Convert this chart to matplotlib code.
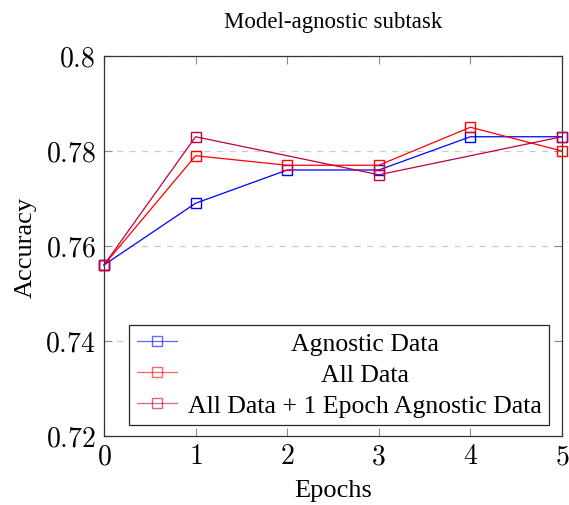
import matplotlib.pyplot as plt

epochs = [0, 1, 2, 3, 4, 5]
agnostic = [0.756, 0.769, 0.776, 0.776, 0.783, 0.783]
all_data = [0.756, 0.779, 0.777, 0.777, 0.785, 0.780]
mixed_epochs = [0, 1, 3, 5]
mixed = [0.756, 0.783, 0.775, 0.783]

labels = ["Agnostic Data", "All Data", "All Data + 1 Epoch Agnostic Data"]
colors = ["#0000ff", "#ff0000", "#bf0040"]
yticks = [0.72, 0.74, 0.76, 0.78, 0.8]

plt.rcParams['font.family'] = ['Liberation Serif', 'DejaVu Serif']
plt.rcParams['mathtext.fontset'] = 'cm'

fig = plt.figure(figsize=(5.69, 5.06), dpi=100)
ax = fig.add_axes([104 / 569, 1 - 437 / 506, 458 / 569, 380 / 506])

series = [(epochs, agnostic), (epochs, all_data), (mixed_epochs, mixed)]
handles = []
for (xs, ys), c in zip(series, colors):
    h, = ax.plot(xs, ys, color=c, lw=0.9, marker='s', markersize=7,
                 markerfacecolor='none', markeredgecolor=c, markeredgewidth=1.0,
                 clip_on=False, zorder=3)
    handles.append(h)

ax.set_xlim(0, 5)
ax.set_ylim(0.72, 0.8)
ax.set_xticks(epochs)
ax.set_xticklabels([f"${e}$" for e in epochs])
ax.set_yticks(yticks)
ax.set_yticklabels([f"${t:g}$" for t in yticks])
ax.tick_params(direction='in', length=6, width=0.8, color='0.55',
               top=True, right=True, labelsize=20, pad=6)
ax.yaxis.grid(True, linestyle=(0, (5, 5)), color='0.8', lw=0.9)
for s in ax.spines.values():
    s.set_linewidth(0.9)
    s.set_color('0.2')

ax.set_title("Model-agnostic subtask", fontsize=16.5, pad=21)
ax.set_xlabel("Epochs", fontsize=19, labelpad=7)
ax.set_ylabel("Accuracy", fontsize=19, labelpad=6)

# legend frame with handles, text centred afterwards like pgfplots
leg = ax.legend(handles, labels, loc='lower left', mode='expand',
                bbox_to_anchor=(0.055, 0.029, 0.917, 0.268), fontsize=18.5,
                frameon=True, fancybox=False, edgecolor='0.15', framealpha=1,
                handlelength=1.55, handletextpad=0.3, borderpad=0.3,
                labelspacing=0.31, borderaxespad=0)
leg.get_frame().set_linewidth(0.9)
for line in leg.get_lines():
    line.set_alpha(0.6)

fig.canvas.draw()
frame_bb = leg.get_frame().get_window_extent()
inv = fig.transFigure.inverted()
for t, hl in zip(leg.get_texts(), leg.get_lines()):
    tb = t.get_window_extent()
    hb = hl.get_window_extent()
    xc = (hb.x1 + frame_bb.x1) / 2
    yc = (tb.y0 + tb.y1) / 2
    fx, fy = inv.transform((xc, yc))
    fig.text(fx, fy, t.get_text(), ha='center', va='center', fontsize=18.5)
    t.set_visible(False)

fig.savefig("out.png", dpi=100)
